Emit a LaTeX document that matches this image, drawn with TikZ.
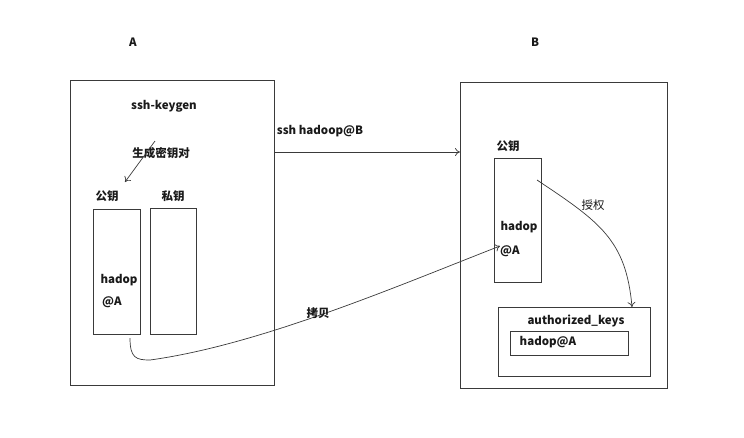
\documentclass[tikz,border=0pt]{standalone}
\usepackage{fontspec}
\setmainfont{Noto Sans CJK SC}
\usepackage{tikz}
\usetikzlibrary{arrows.meta}
\definecolor{KGLine}{HTML}{3A3A3A}
\definecolor{KGText}{HTML}{1A1A1A}
\tikzset{
  hostbox/.style={draw=KGLine,line width=1pt,inner sep=0pt,outer sep=0pt,anchor=north west},
  keybox/.style={draw=KGLine,line width=1pt,inner sep=0pt,outer sep=0pt,anchor=north west},
  lbl/.style={text=KGText,font=\fontsize{11.5}{13}\selectfont\bfseries,inner sep=1pt},
  lblthin/.style={text=KGText,font=\fontsize{11.5}{13}\selectfont,inner sep=1pt},
  arr/.style={draw=KGLine,line width=0.7pt,-{To[length=5pt,width=8pt]}},
}

\begin{document}
\begin{tikzpicture}[x=1pt,y=-1pt]
\path[use as bounding box] (0,0) rectangle (744,437);
% host A
\node[lbl] (labA) at (133,42) {A};
\node[hostbox,minimum width=204pt,minimum height=305pt] (hostA) at (70,80) {};
\node[lbl] (keygen) at (164,106) {ssh-keygen};
\node[lbl] (gen) at (161,153) {生成密钥对};
\node[lbl] (pubAlbl) at (107,196) {公钥};
\node[lbl] (privAlbl) at (173,196) {私钥};
\node[keybox,minimum width=47pt,minimum height=125pt] (pubA) at (93,209) {};
\node[keybox,minimum width=46pt,minimum height=126pt] (privA) at (150,208) {};
\node[lbl] (pubAtop) at (119,280) {hadop};
\node[lbl] (pubAbot) at (112,302) {@A};
\coordinate (genfrom) at (155,141);
\coordinate (gento) at (125,182);
\draw[arr] (genfrom) -- (gento);
% host B
\node[lbl] (labB) at (535,42) {B};
\node[hostbox,minimum width=207pt,minimum height=306pt] (hostB) at (460,82) {};
\node[lbl] (pubBlbl) at (508,146) {公钥};
\node[keybox,minimum width=47pt,minimum height=124pt] (pubB) at (494,158) {};
\node[lbl] (pubBtop) at (519,227) {hadop};
\node[lbl] (pubBbot) at (510,251) {@A};
\node[keybox,minimum width=152pt,minimum height=69pt] (authkeys) at (498,307) {};
\node[lbl] (authlbl) at (576,321) {authorized\_keys};
\node[keybox,minimum width=118pt,minimum height=24pt] (authA) at (510,331) {};
\node[lbl] (authAlbl) at (548,342) {hadop@A};
% connectors
\node[lbl] (sshlbl) at (320,131) {ssh hadoop@B};
\draw[arr] (hostA.east |- 0,152) -- (hostB.west |- 0,152);
\coordinate (cpfrom) at (130,338);
\coordinate (cpto) at (500,246);
\draw[arr] (cpfrom) .. controls (130,358) and (136,360) .. (150,360)
  .. controls (260,345) and (400,285) .. (cpto);
\node[lbl] (cplbl) at (318,313) {拷贝};
\coordinate (grfrom) at (537,180);
\draw[arr] (grfrom) .. controls (600,222) and (626,240) .. (authkeys.north -| 632,0);
\node[lblthin] (grlbl) at (593,205) {授权};
\end{tikzpicture}
\end{document}
